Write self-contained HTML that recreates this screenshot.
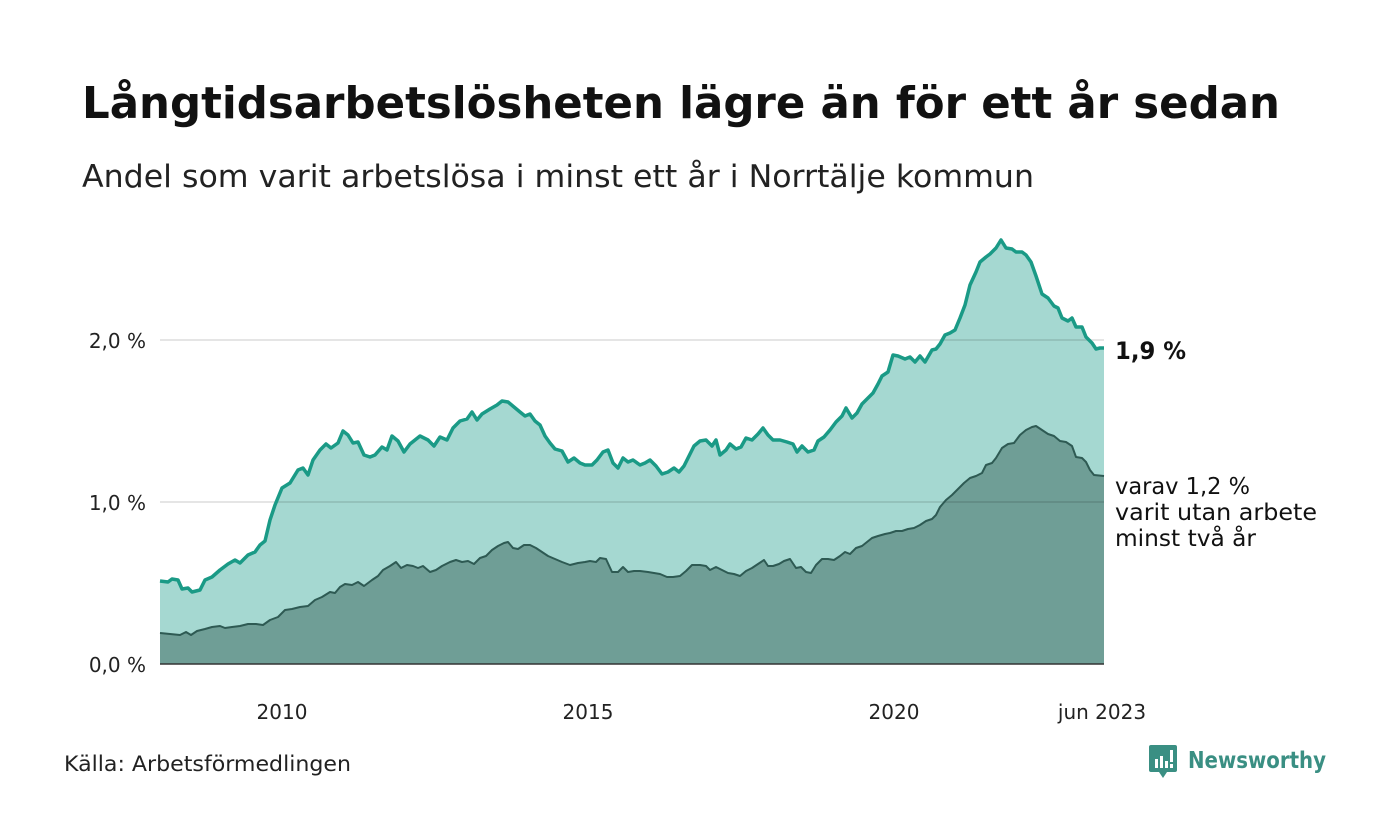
<!DOCTYPE html>
<html><head><meta charset="utf-8"><style>
html,body{margin:0;padding:0;background:#fff;width:1400px;height:840px;overflow:hidden}
svg{display:block;font-family:"DejaVu Sans","Liberation Sans",sans-serif}
</style></head><body>
<svg width="1400" height="840" viewBox="0 0 1400 840">
<text x="82" y="118" font-size="43.5" font-weight="bold" fill="#111" textLength="1198" lengthAdjust="spacingAndGlyphs">Långtidsarbetslösheten lägre än för ett år sedan</text>
<text x="82" y="187" font-size="31" fill="#222" textLength="952" lengthAdjust="spacingAndGlyphs">Andel som varit arbetslösa i minst ett år i Norrtälje kommun</text>
<path fill="#a5d8d1" d="M160,664 L160,581 L168,582 L172,579 L178,580 L182,589 L188,588 L192,592 L200,590 L205,580 L212,577 L220,570 L228,564 L235,560 L240,563 L248,555 L255,552 L260,545 L265,541 L270,520 L275,505 L282,488 L290,483 L298,470 L303,468 L308,475 L313,460 L320,450 L326,444 L331,448 L338,443 L343,431 L348,435 L353,443 L358,442 L364,455 L370,457 L375,455 L382,447 L387,450 L392,436 L398,441 L404,452 L410,444 L420,436 L428,440 L434,446 L440,437 L447,440 L453,428 L460,421 L467,419 L472,412 L477,420 L482,414 L490,409 L497,405 L502,401 L508,402 L514,407 L520,412 L525,416 L530,414 L535,421 L540,425 L545,436 L550,443 L555,449 L562,451 L568,462 L574,458 L580,463 L585,465 L592,465 L597,460 L603,452 L608,450 L613,463 L618,468 L623,458 L628,462 L633,460 L640,465 L645,463 L650,460 L656,466 L662,474 L668,472 L674,468 L679,472 L684,466 L688,458 L694,446 L700,441 L706,440 L712,446 L716,440 L720,455 L726,450 L730,444 L736,449 L741,447 L746,438 L752,440 L758,434 L763,428 L768,435 L773,440 L780,440 L787,442 L793,444 L797,452 L802,446 L808,452 L814,450 L818,441 L824,437 L830,430 L836,422 L842,416 L846,408 L852,418 L857,413 L862,404 L868,398 L873,393 L878,384 L882,376 L888,372 L893,355 L898,356 L905,359 L910,357 L915,362 L920,356 L925,362 L932,350 L936,349 L940,344 L945,335 L950,333 L955,330 L960,318 L965,305 L970,285 L976,272 L980,262 L986,257 L990,254 L996,248 L1001,240 L1006,248 L1012,249 L1016,252 L1022,252 L1026,255 L1031,262 L1036,276 L1042,294 L1048,298 L1054,306 L1058,308 L1062,318 L1068,321 L1072,318 L1076,327 L1082,327 L1086,337 L1092,343 L1096,349 L1100,348 L1104,348 L1104,664 Z"/>
<path fill="#6f9e96" d="M160,664 L160,633 L170,634 L180,635 L186,632 L191,635 L197,631 L205,629 L212,627 L220,626 L225,628 L232,627 L240,626 L248,624 L256,624 L263,625 L270,620 L278,617 L285,610 L292,609 L300,607 L308,606 L315,600 L322,597 L330,592 L335,593 L340,587 L345,584 L352,585 L358,582 L364,586 L372,580 L378,576 L383,570 L390,566 L396,562 L401,568 L407,565 L413,566 L418,568 L423,566 L430,572 L436,570 L442,566 L450,562 L456,560 L462,562 L468,561 L474,564 L480,558 L486,556 L492,550 L498,546 L504,543 L508,542 L513,548 L518,549 L524,545 L530,545 L536,548 L542,552 L548,556 L555,559 L562,562 L570,565 L578,563 L585,562 L590,561 L596,562 L600,558 L606,559 L612,572 L618,572 L623,567 L628,572 L634,571 L640,571 L648,572 L654,573 L660,574 L667,577 L673,577 L680,576 L686,571 L692,565 L700,565 L706,566 L710,570 L716,567 L722,570 L728,573 L734,574 L740,576 L746,571 L752,568 L758,564 L764,560 L768,566 L773,566 L779,564 L784,561 L790,559 L796,568 L801,567 L806,572 L811,573 L816,565 L822,559 L828,559 L834,560 L840,556 L845,552 L850,554 L856,548 L862,546 L867,542 L872,538 L878,536 L885,534 L890,533 L896,531 L902,531 L908,529 L914,528 L920,525 L926,521 L932,519 L936,515 L940,507 L946,500 L952,495 L958,489 L964,483 L970,478 L976,476 L982,473 L986,465 L992,463 L996,458 L1002,448 L1008,444 L1014,443 L1020,435 L1026,430 L1032,427 L1036,426 L1042,430 L1048,434 L1054,436 L1060,441 L1066,442 L1072,446 L1076,457 L1082,458 L1086,462 L1090,470 L1094,475 L1104,476 L1104,664 Z"/>
<g stroke="#000" stroke-opacity="0.1" stroke-width="2">
<line x1="160" y1="340" x2="1104" y2="340"/><line x1="160" y1="502" x2="1104" y2="502"/>
</g>
<line x1="160" y1="664" x2="1104" y2="664" stroke="#333" stroke-width="1.5"/>
<polyline fill="none" stroke="#1a9a86" stroke-width="3.5" stroke-linejoin="round" points="160,581 168,582 172,579 178,580 182,589 188,588 192,592 200,590 205,580 212,577 220,570 228,564 235,560 240,563 248,555 255,552 260,545 265,541 270,520 275,505 282,488 290,483 298,470 303,468 308,475 313,460 320,450 326,444 331,448 338,443 343,431 348,435 353,443 358,442 364,455 370,457 375,455 382,447 387,450 392,436 398,441 404,452 410,444 420,436 428,440 434,446 440,437 447,440 453,428 460,421 467,419 472,412 477,420 482,414 490,409 497,405 502,401 508,402 514,407 520,412 525,416 530,414 535,421 540,425 545,436 550,443 555,449 562,451 568,462 574,458 580,463 585,465 592,465 597,460 603,452 608,450 613,463 618,468 623,458 628,462 633,460 640,465 645,463 650,460 656,466 662,474 668,472 674,468 679,472 684,466 688,458 694,446 700,441 706,440 712,446 716,440 720,455 726,450 730,444 736,449 741,447 746,438 752,440 758,434 763,428 768,435 773,440 780,440 787,442 793,444 797,452 802,446 808,452 814,450 818,441 824,437 830,430 836,422 842,416 846,408 852,418 857,413 862,404 868,398 873,393 878,384 882,376 888,372 893,355 898,356 905,359 910,357 915,362 920,356 925,362 932,350 936,349 940,344 945,335 950,333 955,330 960,318 965,305 970,285 976,272 980,262 986,257 990,254 996,248 1001,240 1006,248 1012,249 1016,252 1022,252 1026,255 1031,262 1036,276 1042,294 1048,298 1054,306 1058,308 1062,318 1068,321 1072,318 1076,327 1082,327 1086,337 1092,343 1096,349 1100,348 1104,348"/>
<polyline fill="none" stroke="#2e5a53" stroke-width="2" stroke-linejoin="round" points="160,633 170,634 180,635 186,632 191,635 197,631 205,629 212,627 220,626 225,628 232,627 240,626 248,624 256,624 263,625 270,620 278,617 285,610 292,609 300,607 308,606 315,600 322,597 330,592 335,593 340,587 345,584 352,585 358,582 364,586 372,580 378,576 383,570 390,566 396,562 401,568 407,565 413,566 418,568 423,566 430,572 436,570 442,566 450,562 456,560 462,562 468,561 474,564 480,558 486,556 492,550 498,546 504,543 508,542 513,548 518,549 524,545 530,545 536,548 542,552 548,556 555,559 562,562 570,565 578,563 585,562 590,561 596,562 600,558 606,559 612,572 618,572 623,567 628,572 634,571 640,571 648,572 654,573 660,574 667,577 673,577 680,576 686,571 692,565 700,565 706,566 710,570 716,567 722,570 728,573 734,574 740,576 746,571 752,568 758,564 764,560 768,566 773,566 779,564 784,561 790,559 796,568 801,567 806,572 811,573 816,565 822,559 828,559 834,560 840,556 845,552 850,554 856,548 862,546 867,542 872,538 878,536 885,534 890,533 896,531 902,531 908,529 914,528 920,525 926,521 932,519 936,515 940,507 946,500 952,495 958,489 964,483 970,478 976,476 982,473 986,465 992,463 996,458 1002,448 1008,444 1014,443 1020,435 1026,430 1032,427 1036,426 1042,430 1048,434 1054,436 1060,441 1066,442 1072,446 1076,457 1082,458 1086,462 1090,470 1094,475 1104,476"/>
<g font-size="20" fill="#222" text-anchor="end">
<text x="146" y="348">2,0 %</text><text x="146" y="510">1,0 %</text><text x="146" y="672">0,0 %</text>
</g>
<g font-size="20" fill="#222" text-anchor="middle">
<text x="282" y="719">2010</text><text x="588" y="719">2015</text><text x="894" y="719">2020</text><text x="1102" y="719">jun 2023</text>
</g>
<text x="1115" y="359" font-size="24" font-weight="bold" fill="#111" textLength="71" lengthAdjust="spacingAndGlyphs">1,9 %</text>
<g font-size="23" fill="#111">
<text x="1115" y="494" textLength="135" lengthAdjust="spacingAndGlyphs">varav 1,2 %</text><text x="1115" y="520" textLength="202" lengthAdjust="spacingAndGlyphs">varit utan arbete</text><text x="1115" y="546" textLength="141" lengthAdjust="spacingAndGlyphs">minst två år</text>
</g>
<text x="64" y="771" font-size="21" fill="#222" textLength="287" lengthAdjust="spacingAndGlyphs">Källa: Arbetsförmedlingen</text>
<g transform="translate(1149,745)">
<path d="M0,2 Q0,0 2,0 L26,0 Q28,0 28,2 L28,25 Q28,27 26,27 L18,27 L14,33 L10,27 L2,27 Q0,27 0,25 Z" fill="#3a8f83"/>
<rect x="6" y="14" width="3" height="9" fill="#fff"/><rect x="11" y="11" width="3" height="12" fill="#fff"/><rect x="16" y="16" width="3" height="7" fill="#fff"/><rect x="21" y="5" width="3" height="12" fill="#fff"/><rect x="21" y="19" width="3" height="4" fill="#fff"/>
</g>
<text x="1188" y="768" font-size="23" font-weight="bold" fill="#3a8f83" textLength="138" lengthAdjust="spacingAndGlyphs">Newsworthy</text>
</svg>
</body></html>
